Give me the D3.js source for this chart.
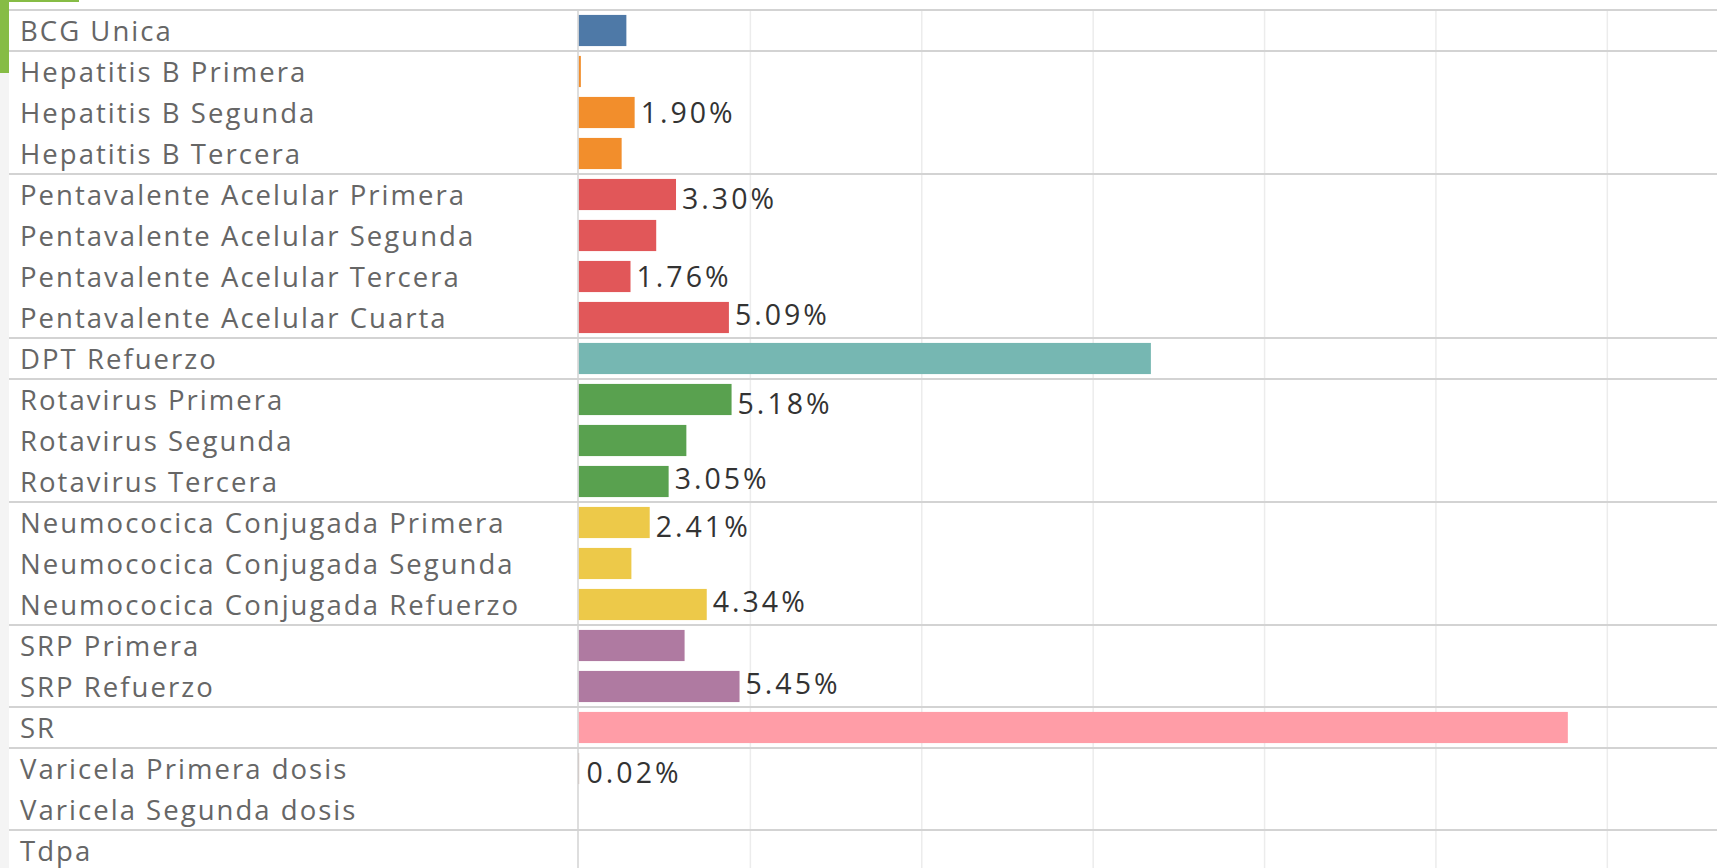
<!DOCTYPE html>
<html>
<head>
<meta charset="utf-8">
<script src="https://cdn.jsdelivr.net/npm/d3@7"></script>
<style>
  html, body { margin: 0; padding: 0; background: #fff; }
  svg { display: block; }
  .rowlabel { font-family: "Open Sans", sans-serif; font-size: 27.5px; fill: #666; }
  .vallabel { font-family: "Open Sans", sans-serif; font-size: 28.5px; fill: #333; }
</style>
</head>
<body>
<div id="chart"></div>
<script>

// vaccine doses, share of total applied (%)
var vaccines = [
    "BCG Unica",
    "Hepatitis B Primera",
    "Hepatitis B Segunda",
    "Hepatitis B Tercera",
    "Pentavalente Acelular Primera",
    "Pentavalente Acelular Segunda",
    "Pentavalente Acelular Tercera",
    "Pentavalente Acelular Cuarta",
    "DPT Refuerzo",
    "Rotavirus Primera",
    "Rotavirus Segunda",
    "Rotavirus Tercera",
    "Neumococica Conjugada Primera",
    "Neumococica Conjugada Segunda",
    "Neumococica Conjugada Refuerzo",
    "SRP Primera",
    "SRP Refuerzo",
    "SR",
    "Varicela Primera dosis",
    "Varicela Segunda dosis",
    "Tdpa"
]
var vaccineGroup = ["BCG", "HepB", "HepB", "HepB", "Penta", "Penta", "Penta", "Penta", "DPT",
    "Rota", "Rota", "Rota", "Neumo", "Neumo", "Neumo", "SRP", "SRP", "SR", "Varicela", "Varicela", "Tdpa"]
var shares = [1.62, 0.08, 1.90, 1.46, 3.30, 2.63, 1.76, 5.09, 19.37,
    5.18, 3.65, 3.05, 2.41, 1.79, 4.34, 3.59, 5.45, 33.48, 0.02, 0, 0]
// tableau only shows the labels that don't collide
var showLabel = [false, false, true, false, true, false, true, true, false,
    true, false, true, true, false, true, false, true, false, true, false, false]
var gridStep = 5.8

var width = 1717,
    height = 868
var plotLeft = 578.5,   // where the bars start
    plotTop = 10,
    rowH = 41

var svg = d3.select("#chart")
    .append("svg")
    .attr("width", width)
    .attr("height", height)

// light strip on the far left + green corner marker
svg.append("rect").attr("x", 0).attr("y", 0).attr("width", 9).attr("height", height).attr("fill", "#f4f4f4")
svg.append("rect").attr("x", 0).attr("y", 0).attr("width", 9).attr("height", 73).attr("fill", "#86bc45")
svg.append("rect").attr("x", 0).attr("y", 0).attr("width", 79).attr("height", 2).attr("fill", "#86bc45")

var x = d3.scaleLinear()
    .domain([0, (width - plotLeft) / 29.55])
    .range([plotLeft, width])

var y = d3.scaleBand()
    .domain(vaccines)
    .range([plotTop, plotTop + rowH * vaccines.length])
    .paddingInner(0.24)
    .paddingOuter(0.12)

var colour = d3.scaleOrdinal()
    .domain(["BCG", "HepB", "Penta", "DPT", "Rota", "Neumo", "SRP", "SR", "Varicela", "Tdpa"])
    .range(d3.schemeTableau10)

// vertical gridlines
var grid = svg.append("g")
    .attr("transform", "translate(0," + plotTop + ")")
    .call(d3.axisBottom(x)
        .tickValues(d3.range(gridStep, x.domain()[1], gridStep))
        .tickSize(height - plotTop)
        .tickFormat(""))
grid.select(".domain").remove()
grid.selectAll("line").attr("stroke", "#ececec").attr("stroke-width", 1.5)

// separators between vaccine groups (and the top border)
var sepRows = vaccines.filter(function(d, i) {
    return i == 0 || vaccineGroup[i] != vaccineGroup[i - 1]
})
svg.selectAll(".sep")
    .data(sepRows)
    .enter()
    .append("line")
    .attr("class", "sep")
    .attr("x1", 9)
    .attr("x2", width)
    .attr("y1", function(d) { return y(d) - y.step() * y.paddingOuter() })
    .attr("y2", function(d) { return y(d) - y.step() * y.paddingOuter() })
    .attr("stroke", "#d3d3d3")
    .attr("stroke-width", 2)

var idx = d3.range(vaccines.length)

// bars
svg.selectAll(".bar")
    .data(idx)
    .enter()
    .append("rect")
    .attr("class", "bar")
    .attr("x", x(0))
    .attr("y", function(i) { return y(vaccines[i]) })
    .attr("width", function(i) { return x(shares[i]) - x(0) })
    .attr("height", y.bandwidth())
    .attr("fill", function(i) { return colour(vaccineGroup[i]) })

// zero line
svg.append("line")
    .attr("x1", plotLeft - 0.5)
    .attr("x2", plotLeft - 0.5)
    .attr("y1", plotTop)
    .attr("y2", height)
    .attr("stroke", "#d3d3d3")
    .attr("stroke-width", 1.5)

// row labels
var rowLabels = svg.selectAll(".rowlabel")
    .data(vaccines)
    .enter()
    .append("text")
    .attr("class", "rowlabel")
    .attr("x", 20)
    .attr("y", function(d) { return y(d) + y.bandwidth() / 2 + 1 })
    .attr("dy", "0.36em")
    .text(function(d) { return d })

// tableau nudges labels: first row of a pane goes down a bit, last one up
function labelNudge(i) {
    var first = i == 0 || vaccineGroup[i] != vaccineGroup[i - 1]
    var last = i == vaccines.length - 1 || vaccineGroup[i] != vaccineGroup[i + 1]
    if (first && last) return 0
    if (first) return 4.4
    if (last) return -3
    return 0
}

// value labels
var fmt = d3.format(".2f")
var valLabels = svg.selectAll(".vallabel")
    .data(idx.filter(function(i) { return showLabel[i] }))
    .enter()
    .append("text")
    .attr("class", "vallabel")
    .attr("x", function(i) { return Math.max(x(shares[i]), x(0) + 2) + 6 })
    .attr("y", function(i) { return y(vaccines[i]) + y.bandwidth() / 2 + labelNudge(i) })
    .attr("dy", "0.36em")
    .text(function(i) { return fmt(shares[i]) + "%" })

// tableau book is wider than anything installed: spread the letters so the
// labels span about as far as in tableau
function spreadTo(sel, key, target) {
    var n = sel.filter(function(d) { return this.textContent == key }).node()
    var sp = (target - n.getComputedTextLength()) / (key.length - 1)
    sel.style("letter-spacing", Math.max(0, sp) + "px")
}
spreadTo(rowLabels, "Neumococica Conjugada Refuerzo", 498)
spreadTo(valLabels, "5.45%", 92)

</script>
</body>
</html>
